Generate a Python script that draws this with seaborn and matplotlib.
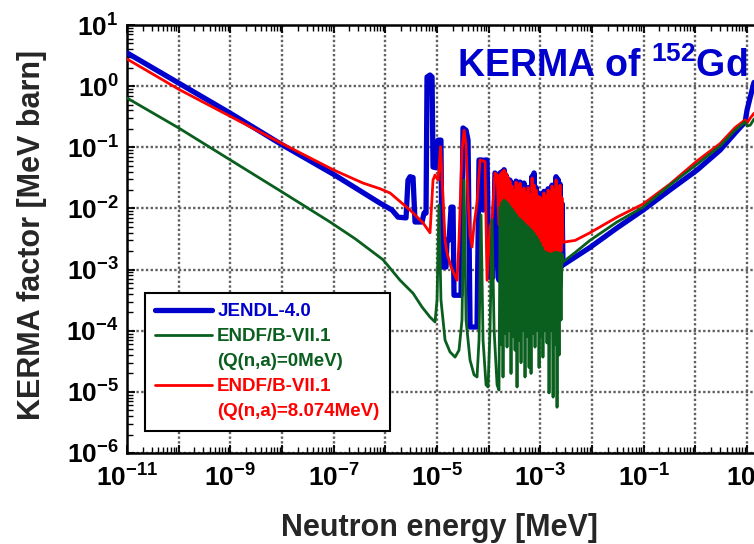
import numpy as np
import matplotlib
matplotlib.use("Agg")
import matplotlib.pyplot as plt
import seaborn as sns
from matplotlib.ticker import FixedLocator, FuncFormatter, LogLocator, NullFormatter
from matplotlib.lines import Line2D

# ---------------- data ----------------
# low-energy / first resonances, JENDL-4.0
jendl_low_energy = [1e-11, 1e-9, 1e-8, 1e-7, 7.87e-7, 1.35e-6, 1.76e-6, 2.51e-6, 2.74e-6,
                    3.0e-6, 3.43e-6, 3.75e-6, 5.12e-6, 5.6e-6, 6.12e-6, 6.4e-6, 7.31e-6,
                    8.0e-6, 8.36e-6, 1.0e-5, 1.045e-5, 1.19e-5, 1.25e-5, 1.49e-5, 1.56e-5,
                    1.71e-5, 1.87e-5, 2.04e-5, 2.13e-5, 2.91e-5, 3.18e-5, 3.64e-5, 3.98e-5,
                    4.35e-5, 5.94e-5, 6.49e-5, 7.41e-5, 7.76e-5, 8.49e-5, 9.27e-5, 1.01e-4,
                    1.21e-4, 1.32e-4]
jendl_low_kerma = [3.5, 0.36, 0.11, 0.036, 0.0122, 0.0094, 0.0072, 0.0070, 0.029,
                   0.033, 0.032, 0.0060, 0.0060, 0.0084, 0.0084, 1.41, 1.52,
                   1.41, 0.0475, 0.046, 0.131, 0.131, 0.0011, 0.0011, 0.00305,
                   0.00305, 0.0105, 0.0105, 3.8e-4, 3.8e-4, 0.207, 0.19, 0.131,
                   1.15e-4, 1.15e-4, 0.062, 0.062, 0.0094, 0.062, 0.062, 7.5e-4,
                   7.5e-4, 0.038]

# ENDF/B-VII.1, Q(n,a)=0 MeV
endf0_low_energy = [1e-11, 1e-10, 1e-9, 1e-8, 8.5e-8, 2.59e-7, 9.0e-7, 1.92e-6, 3.43e-6,
                    5.12e-6, 7.31e-6, 9.14e-6, 1.0e-5, 1.09e-5, 1.19e-5, 1.43e-5, 1.78e-5,
                    2.23e-5, 2.66e-5, 3.04e-5, 3.33e-5, 3.64e-5, 4.35e-5, 5.2e-5, 5.94e-5,
                    6.49e-5, 7.1e-5, 7.76e-5, 8.87e-5, 9.7e-5, 1.06e-4, 1.16e-4, 1.27e-4,
                    1.45e-4]
endf0_low_kerma = [0.64, 0.207, 0.062, 0.0186, 0.0060, 0.0032, 0.00145, 6.7e-4, 4.1e-4,
                   2.44e-4, 1.67e-4, 1.39e-4, 3.2e-4, 0.0114, 3.2e-4, 7.0e-5, 4.5e-5,
                   3.7e-5, 4.8e-5, 1.5e-4, 0.029, 1.5e-4, 3.3e-5, 1.9e-5, 1.75e-5,
                   7.0e-5, 0.0078, 7.0e-5, 1.3e-5, 1.2e-5, 1.03e-4, 0.0065, 1.03e-4,
                   1.3e-5]

# ENDF/B-VII.1, Q(n,a)=8.074 MeV
endf8_low_energy = [1e-11, 1e-10, 1e-9, 1e-8, 1e-7, 3.69e-7, 7.87e-7, 1.23e-6, 3.0e-6,
                    5.36e-6, 7.31e-6, 8.36e-6, 9.14e-6, 1.045e-5, 1.17e-5, 1.31e-5,
                    1.43e-5, 1.56e-5, 1.87e-5, 2.44e-5, 2.66e-5, 3.04e-5, 3.33e-5, 3.64e-5,
                    3.98e-5, 4.35e-5, 4.75e-5, 5.2e-5, 5.94e-5, 6.79e-5, 8.49e-5, 9.27e-5,
                    1.06e-4, 1.16e-4, 1.32e-4, 1.45e-4]
endf8_low_kerma = [2.78, 0.89, 0.32, 0.115, 0.0425, 0.026, 0.021, 0.0179, 0.0094,
                   0.0058, 0.0040, 0.0292, 0.0352, 0.029, 0.102, 0.0137,
                   0.0030, 0.00187, 0.0011, 6.7e-4, 0.0030, 0.090, 0.19, 0.109,
                   0.0137, 0.0037, 0.00234, 0.0054, 0.0123, 0.062, 0.058, 6.7e-4,
                   0.0050, 0.0065, 0.038, 0.035]

# dense resonance region: valley positions and peak positions (alternating)
dense_valley_energy = [1.58e-4, 1.73e-4, 1.89e-4, 2.07e-4, 2.26e-4, 2.47e-4, 2.70e-4,
                       2.95e-4, 3.23e-4, 3.53e-4, 3.86e-4, 4.22e-4, 4.61e-4, 5.04e-4,
                       5.51e-4, 6.03e-4, 6.59e-4, 7.20e-4, 7.87e-4, 8.61e-4, 9.42e-4,
                       1.03e-3, 1.12e-3, 1.23e-3, 1.34e-3, 1.47e-3, 1.61e-3, 1.76e-3,
                       1.92e-3, 2.10e-3, 2.30e-3, 2.51e-3, 2.74e-3]
dense_peak_energy = [1.66e-4, 1.81e-4, 1.98e-4, 2.16e-4, 2.36e-4, 2.58e-4, 2.82e-4,
                     3.09e-4, 3.38e-4, 3.69e-4, 4.04e-4, 4.41e-4, 4.82e-4, 5.27e-4,
                     5.77e-4, 6.30e-4, 6.89e-4, 7.53e-4, 8.24e-4, 9.0e-4, 9.84e-4,
                     1.08e-3, 1.17e-3, 1.29e-3, 1.41e-3, 1.54e-3, 1.68e-3, 1.84e-3,
                     2.01e-3, 2.19e-3, 2.40e-3, 2.62e-3]

jendl_dense_valleys = [6.7e-4, 1.2e-3, 8e-4, 5.6e-4, 9.8e-4, 6.7e-4, 9.8e-4, 5e-4, 6.7e-4,
                       4.6e-4, 9.8e-4, 6e-4, 5.6e-4, 8.1e-4, 6.7e-4, 9e-4, 8.1e-4, 6.7e-4,
                       9.8e-4, 5.6e-4, 8.1e-4, 6.7e-4, 1.0e-3, 5.6e-4, 8.1e-4, 6.7e-4,
                       1.2e-3, 9.8e-4, 8e-4, 1.0e-3, 9.8e-4, 1.1e-3, 1.19e-3]
jendl_dense_peaks = [0.038, 0.040, 0.043, 0.035, 0.030, 0.029, 0.025, 0.022, 0.028, 0.026,
                     0.027, 0.022, 0.026, 0.020, 0.022, 0.019, 0.0335, 0.038, 0.022, 0.018,
                     0.017, 0.016, 0.019, 0.015, 0.021, 0.019, 0.024, 0.021, 0.033, 0.030,
                     0.025, 0.012]

endf0_dense_valleys = [1.07e-5, 6e-5, 1.75e-5, 9e-5, 5.4e-5, 1e-4, 2.0e-5, 8e-5, 4.8e-5,
                       1.2e-5, 7e-5, 3.0e-5, 1e-4, 1.75e-5, 8e-5, 2.5e-5, 2.0e-5, 9e-5,
                       5.4e-5, 1e-4, 2.5e-5, 8e-5, 3.7e-5, 1e-4, 6.3e-5, 9.6e-6, 1e-4,
                       8.2e-6, 6e-5, 5.6e-6, 4e-5, 1.5e-4, 0.00133]
endf0_dense_peaks = [0.0105, 0.0125, 0.0137, 0.013, 0.012, 0.0108, 0.0098, 0.0088, 0.0079,
                     0.0071, 0.0067, 0.0062, 0.0058, 0.0053, 0.0050, 0.0046, 0.0043,
                     0.0039, 0.0035, 0.0031, 0.0027, 0.0023, 0.0020, 0.0019, 0.00187,
                     0.0018, 0.0018, 0.0019, 0.0019, 0.0019, 0.00185, 0.0018]

endf8_dense_valleys = [0.0054, 0.0058, 0.0060, 0.0056, 0.0050, 0.0047, 0.0044, 0.0042,
                       0.0040, 0.0038, 0.0037, 0.0034, 0.0030, 0.0029, 0.0028, 0.0026,
                       0.0025, 0.0023, 0.0021, 0.0020, 0.00187, 0.0017, 0.0016, 0.0016,
                       0.0016, 0.0017, 0.00173, 0.0018, 0.00187, 0.0018, 0.00173, 0.0020,
                       0.0028]
endf8_dense_peaks = [0.036, 0.0394, 0.0425, 0.038, 0.0327, 0.028, 0.0233, 0.020, 0.027,
                     0.024, 0.026, 0.020, 0.0216, 0.018, 0.022, 0.017, 0.0315, 0.024,
                     0.020, 0.016, 0.0154, 0.014, 0.0179, 0.016, 0.020, 0.018, 0.0233,
                     0.020, 0.0292, 0.022, 0.024, 0.015]

# smooth high-energy part (shared energy grid)
tail_energy = [4.7e-3, 9.1e-3, 0.0304, 0.097, 0.32, 1.08, 3.0, 5.85, 9.14, 10.0, 11.5, 13.6]
jendl_tail_kerma = [0.0016, 0.0023, 0.0048, 0.0094, 0.020, 0.0425, 0.090, 0.171, 0.259,
                    0.41, 0.66, 1.15]
endf0_tail_kerma = [0.0019, 0.0030, 0.0060, 0.0105, 0.024, 0.053, 0.105, 0.19, 0.26,
                    0.223, 0.23, 0.29]
endf8_tail_kerma = [0.0030, 0.0040, 0.0072, 0.0118, 0.025, 0.06, 0.115, 0.21, 0.28,
                    0.25, 0.30, 0.36]

series_labels = ["JENDL-4.0", "ENDF/B-VII.1", "(Q(n,a)=0MeV)", "ENDF/B-VII.1",
                 "(Q(n,a)=8.074MeV)"]
x_tick_exponents = list(range(-11, 2))
y_tick_exponents = list(range(-6, 2))


def interleave(valleys, peaks):
    out = []
    for i, v in enumerate(valleys):
        out.append(v)
        if i < len(peaks):
            out.append(peaks[i])
    return out


dense_energy = interleave(dense_valley_energy, dense_peak_energy)

# ---------------- style ----------------
sns.set_style("white")
plt.rcParams["font.family"] = ["Liberation Sans", "DejaVu Sans"]
plt.rcParams["font.weight"] = "bold"
plt.rcParams["mathtext.fontset"] = "custom"
plt.rcParams["mathtext.rm"] = "Liberation Sans:bold"
plt.rcParams["mathtext.bf"] = "Liberation Sans:bold"
plt.rcParams["mathtext.it"] = "Liberation Sans:bold"
plt.rcParams["mathtext.sf"] = "Liberation Sans:bold"

BLUE = "#0000CC"
GREEN = "#0A5F1E"
RED = "#FF0000"

fig = plt.figure(figsize=(7.54, 5.44), dpi=100)
ax = fig.add_axes([127 / 754, 1 - 453 / 544, 627 / 754, 428 / 544])
ax.set_xscale("log")
ax.set_yscale("log")

series = [
    (jendl_low_energy + dense_energy + tail_energy,
     jendl_low_kerma + interleave(jendl_dense_valleys, jendl_dense_peaks) + jendl_tail_kerma,
     BLUE, 3.8, 3),
    (endf8_low_energy + dense_energy + tail_energy,
     endf8_low_kerma + interleave(endf8_dense_valleys, endf8_dense_peaks) + endf8_tail_kerma,
     RED, 2.0, 4),
    (endf0_low_energy + dense_energy + tail_energy,
     endf0_low_kerma + interleave(endf0_dense_valleys, endf0_dense_peaks) + endf0_tail_kerma,
     GREEN, 2.0, 5),
]
for e, k, c, lw, z in series:
    sns.lineplot(x=e, y=k, ax=ax, color=c, linewidth=lw, estimator=None, sort=False,
                 legend=False, zorder=z)

ax.set_xlim(1e-11, 13.6)
ax.set_ylim(1e-6, 1e1)

# ticks
ax.xaxis.set_major_locator(FixedLocator([10.0 ** p for p in x_tick_exponents]))
ax.yaxis.set_major_locator(FixedLocator([10.0 ** p for p in y_tick_exponents]))
ax.xaxis.set_minor_locator(LogLocator(base=10, subs=np.arange(2, 10), numticks=100))
ax.yaxis.set_minor_locator(LogLocator(base=10, subs=np.arange(2, 10), numticks=100))
ax.xaxis.set_minor_formatter(NullFormatter())
ax.yaxis.set_minor_formatter(NullFormatter())


def xfmt(v, pos):
    p = int(round(np.log10(v)))
    if p % 2 == 0:
        return ""
    return r"$\mathbf{10^{%d}}$" % p


def yfmt(v, pos):
    p = int(round(np.log10(v)))
    return r"$\mathbf{10^{%d}}$" % p


ax.xaxis.set_major_formatter(FuncFormatter(xfmt))
ax.yaxis.set_major_formatter(FuncFormatter(yfmt))
ax.tick_params(which="both", direction="in", top=True, right=False, bottom=True, left=True,
               colors="black", labelsize=19)
ax.tick_params(which="major", length=6, width=1.3)
ax.tick_params(which="minor", length=4, width=1.0)
ax.tick_params(axis="x", which="major", pad=8)
ax.tick_params(axis="y", which="major", pad=6)

ax.grid(True, which="major", color="#606060", linestyle=(0, (1, 1)), linewidth=1.7)
ax.set_axisbelow(True)

for side in ["left", "bottom", "top"]:
    ax.spines[side].set_color("black")
    ax.spines[side].set_linewidth(1.8)
ax.spines["right"].set_visible(False)

# labels
ax.set_xlabel("Neutron energy [MeV]", fontsize=22, fontweight="bold")
ax.set_ylabel("KERMA factor [MeV barn]", fontsize=22, fontweight="bold")
ax.xaxis.label.set_va("center")
ax.yaxis.label.set_va("center")
ax.xaxis.set_label_coords(0.499, -0.175)
ax.yaxis.set_label_coords(-0.1515, 0.509)

# title inside the axes
ax.text(0.990, 0.878, r"KERMA of $^{\mathbf{152}}$Gd", transform=ax.transAxes,
        ha="right", va="baseline", fontsize=27, fontweight="bold", color=BLUE, zorder=6)

# legend
handles = [Line2D([], [], color=BLUE, lw=3.8),
           Line2D([], [], color=GREEN, lw=2.0),
           Line2D([], [], color="none", lw=0),
           Line2D([], [], color=RED, lw=2.0),
           Line2D([], [], color="none", lw=0)]
leg = ax.legend(handles, series_labels, loc="upper left",
                bbox_to_anchor=(0.0287, 0.374), borderaxespad=0, frameon=True,
                fancybox=False, framealpha=1, edgecolor="black",
                handlelength=3.0, handletextpad=0.3, labelspacing=0.42, borderpad=0.55,
                prop={"weight": "bold", "size": 13.5})
leg.get_frame().set_linewidth(1.5)
leg.set_zorder(10)
for t, c in zip(leg.get_texts(), [BLUE, GREEN, GREEN, RED, RED]):
    t.set_color(c)

fig.savefig("out.png", dpi=100)
